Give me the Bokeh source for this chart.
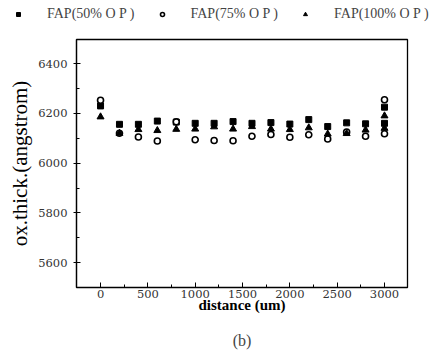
from bokeh.plotting import figure
from bokeh.layouts import column, row
from bokeh.models import Legend, LegendItem, Range1d, FixedTicker, Title
from bokeh.embed import file_html
from bokeh.resources import INLINE

distance = [0, 200, 400, 600, 800, 1000, 1200, 1400, 1600, 1800, 2000, 2200, 2400, 2600, 2800, 3000, 3000]
fap50 = [6230, 6156, 6156, 6169, 6165, 6160, 6160, 6167, 6160, 6163, 6157, 6175, 6147, 6162, 6158, 6225, 6160]
fap75 = [6253, 6120, 6105, 6089, 6166, 6094, 6091, 6090, 6108, 6115, 6104, 6114, 6097, 6125, 6108, 6255, 6118]
fap100 = [6186, 6120, 6135, 6131, 6136, 6137, 6146, 6137, 6147, 6137, 6135, 6142, 6117, 6119, 6133, 6190, 6140]
labels = ["FAP(50% O P )", "FAP(75% O P )", "FAP(100% O P )"]
x_ticks = [0, 500, 1000, 1500, 2000, 2500, 3000]
y_ticks = [5600, 5800, 6000, 6200, 6400]

SERIF = "Liberation Serif"
TICKFONT = "DejaVu Serif"
SQ = dict(marker="square", size=6, fill_color="black", line_color="black")
CI = dict(marker="circle", size=6, fill_color="white", line_color="black", line_width=1.6)
TR = dict(marker="triangle", size=7, fill_color="black", line_color="black")

# ---- legend strip (top): same series, drawn into a range where no point shows ----
lg = figure(width=434, height=34, output_backend="svg", toolbar_location=None,
            x_axis_location=None, y_axis_location=None,
            x_range=Range1d(0, 1), y_range=Range1d(0, 1),
            min_border_left=0, min_border_right=0, min_border_top=0, min_border_bottom=0)
lg.grid.visible = False
lg.outline_line_color = None
l1 = lg.scatter(distance, fap50, **SQ)
l2 = lg.scatter(distance, fap75, **CI)
l3 = lg.scatter(distance, fap100, **TR)
legend = Legend(items=[LegendItem(label=labels[0], renderers=[l1]),
                       LegendItem(label=labels[1], renderers=[l2]),
                       LegendItem(label=labels[2], renderers=[l3])],
                orientation="horizontal", location=(13, 12),
                label_text_font=SERIF, label_text_font_size="14px",
                label_standoff=24, spacing=22, glyph_width=10, glyph_height=10,
                label_height=12, padding=0, margin=0,
                border_line_color=None, background_fill_alpha=0)
lg.add_layout(legend, "center")

# ---- main plot ----
p = figure(width=434, height=325, output_backend="svg", toolbar_location=None,
           x_range=Range1d(-254, 3243), y_range=Range1d(5500, 6497),
           frame_width=331, frame_height=248,
           min_border_left=76, min_border_top=5, min_border_right=27, min_border_bottom=72)
p.background_fill_color = None
p.border_fill_color = "white"
p.outline_line_color = "black"
p.outline_line_width = 1.3
p.grid.visible = False

p.scatter(distance, fap50, **SQ)
p.scatter(distance, fap75, **CI)
p.scatter(distance, fap100, **TR)

for ax in (p.xaxis[0], p.yaxis[0]):
    ax.axis_line_color = "black"
    ax.axis_line_width = 1.2
    ax.major_tick_line_color = "black"
    ax.minor_tick_line_color = "black"
    ax.major_label_text_font = TICKFONT
    ax.major_label_text_font_size = "11.5px"
    ax.major_label_text_color = "#333333"
    ax.axis_label_text_font = SERIF
    ax.axis_label_text_font_style = "normal"
    ax.axis_label_text_color = "black"

p.xaxis.ticker = FixedTicker(ticks=x_ticks, minor_ticks=[250, 750, 1250, 1750, 2250, 2750])
p.yaxis.ticker = FixedTicker(ticks=y_ticks, minor_ticks=[5700, 5900, 6100, 6300])
p.xaxis.major_tick_in = 5
p.xaxis.major_tick_out = 0
p.xaxis.minor_tick_in = 3
p.xaxis.minor_tick_out = 0
p.yaxis.major_tick_in = 4
p.yaxis.major_tick_out = 3
p.yaxis.minor_tick_in = 3
p.yaxis.minor_tick_out = 0
p.xaxis.major_label_standoff = 2
p.yaxis.major_label_standoff = 6

p.xaxis.axis_label = "distance (um)"
p.xaxis.axis_label_text_font_size = "15px"
p.xaxis.axis_label_text_font_style = "bold"
p.xaxis.axis_label_standoff = -4
p.yaxis.axis_label = "ox.thick.(angstrom)"
p.yaxis.axis_label_text_font_size = "21px"
p.yaxis.axis_label_standoff = 3

p.add_layout(Title(text="(b)", align="center", text_font=SERIF, text_font_size="16px",
                   text_font_style="normal", standoff=29, offset=0), "below")

page = column(row(lg), row(p), spacing=0)
open("out.html", "w").write(file_html(page, INLINE))
